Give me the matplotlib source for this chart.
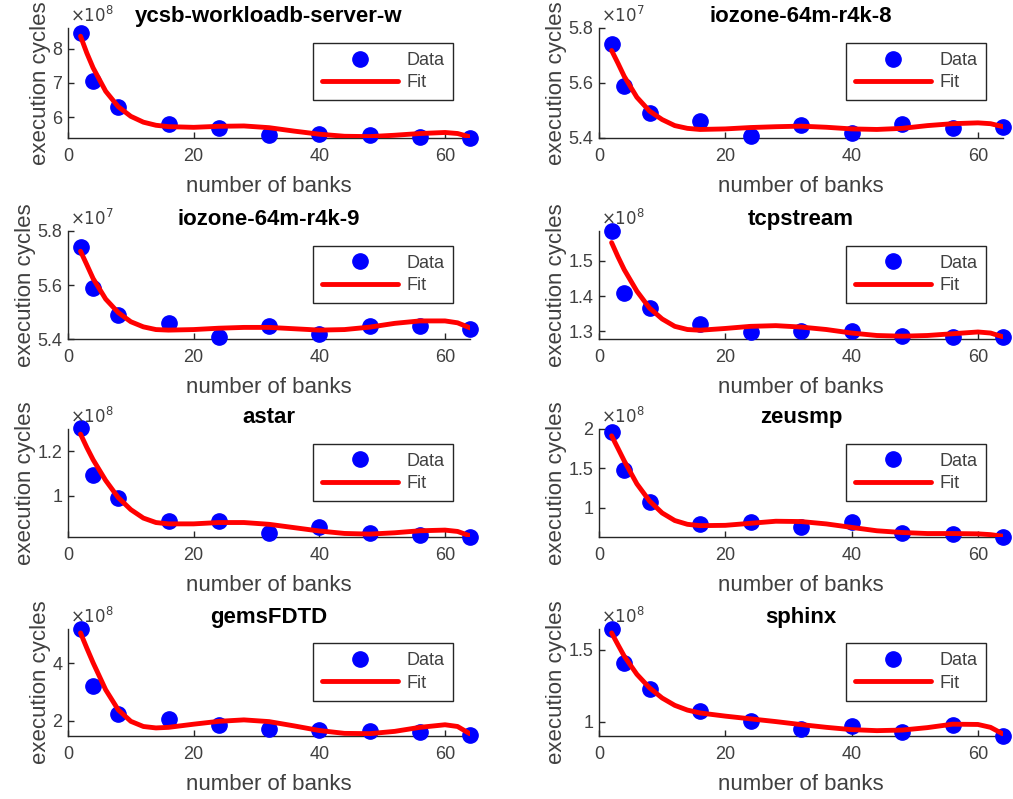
import matplotlib
import matplotlib.pyplot as plt
from matplotlib.ticker import MultipleLocator, FuncFormatter

matplotlib.use("agg")
plt.rcParams["font.family"] = ["Liberation Sans", "DejaVu Sans"]

banks = [2, 4, 8, 16, 24, 32, 40, 48, 56, 64]
fit_x = [2, 3, 4, 6, 8, 10, 12, 14, 16, 20, 24, 28, 32, 36, 40, 44, 48, 52, 56, 60, 62, 64]

titles = ["ycsb-workloadb-server-w", "iozone-64m-r4k-8", "iozone-64m-r4k-9", "tcpstream",
          "astar", "zeusmp", "gemsFDTD", "sphinx"]
exponents = [8, 7, 7, 8, 8, 8, 8, 8]

# measured cycles (in units of 10^exponent)
ycsb_data = [8.46, 7.05, 6.30, 5.81, 5.69, 5.50, 5.51, 5.49, 5.42, 5.40]
ioz8_data = [5.741, 5.589, 5.492, 5.460, 5.408, 5.448, 5.419, 5.450, 5.435, 5.441]
ioz9_data = [5.741, 5.589, 5.489, 5.460, 5.408, 5.448, 5.420, 5.450, 5.448, 5.438]
tcp_data = [1.585, 1.408, 1.367, 1.322, 1.297, 1.300, 1.302, 1.286, 1.284, 1.283]
astar_data = [1.303, 1.092, 0.988, 0.885, 0.885, 0.834, 0.862, 0.835, 0.826, 0.815]
zeus_data = [1.965, 1.478, 1.074, 0.796, 0.817, 0.752, 0.817, 0.687, 0.665, 0.630]
gems_data = [5.20, 3.21, 2.24, 2.06, 1.85, 1.71, 1.68, 1.64, 1.61, 1.51]
sphinx_data = [1.645, 1.411, 1.230, 1.073, 1.007, 0.948, 0.972, 0.925, 0.977, 0.901]

# fitted curves, read at fit_x
ycsb_fit = [8.36, 7.87, 7.44, 6.76, 6.31, 6.03, 5.86, 5.77, 5.73, 5.71, 5.74, 5.75, 5.70,
            5.60, 5.51, 5.45, 5.44, 5.48, 5.53, 5.56, 5.53, 5.43]
ioz8_fit = [5.718, 5.672, 5.624, 5.548, 5.498, 5.467, 5.445, 5.435, 5.431, 5.433, 5.438,
            5.441, 5.443, 5.439, 5.433, 5.431, 5.435, 5.445, 5.452, 5.455, 5.452, 5.441]
ioz9_fit = [5.725, 5.675, 5.624, 5.548, 5.498, 5.464, 5.445, 5.435, 5.433, 5.435, 5.440,
            5.443, 5.443, 5.438, 5.433, 5.435, 5.444, 5.458, 5.467, 5.467, 5.460, 5.441]
tcp_fit = [1.552, 1.512, 1.475, 1.414, 1.366, 1.335, 1.314, 1.305, 1.303, 1.308, 1.314,
           1.316, 1.312, 1.305, 1.295, 1.288, 1.286, 1.288, 1.293, 1.298, 1.295, 1.284]
astar_fit = [1.277, 1.217, 1.162, 1.069, 0.992, 0.938, 0.900, 0.880, 0.874, 0.874, 0.880,
             0.880, 0.872, 0.857, 0.842, 0.831, 0.828, 0.834, 0.843, 0.846, 0.840, 0.820]
zeus_fit = [1.913, 1.755, 1.595, 1.304, 1.087, 0.935, 0.839, 0.791, 0.774, 0.778, 0.804,
            0.830, 0.826, 0.796, 0.752, 0.709, 0.687, 0.674, 0.674, 0.670, 0.660, 0.639]
gems_fit = [5.06, 4.53, 4.02, 3.08, 2.38, 1.98, 1.80, 1.75, 1.77, 1.88, 1.98, 2.03, 1.97,
            1.82, 1.66, 1.56, 1.55, 1.63, 1.77, 1.86, 1.80, 1.54]
sphinx_fit = [1.617, 1.535, 1.455, 1.329, 1.235, 1.164, 1.113, 1.080, 1.060, 1.038, 1.019,
              1.000, 0.979, 0.960, 0.944, 0.937, 0.941, 0.958, 0.982, 0.980, 0.960, 0.913]

all_data = [ycsb_data, ioz8_data, ioz9_data, tcp_data, astar_data, zeus_data, gems_data, sphinx_data]
all_fit = [ycsb_fit, ioz8_fit, ioz9_fit, tcp_fit, astar_fit, zeus_fit, gems_fit, sphinx_fit]
y_limits = [(5.40, 8.60), (5.40, 5.80), (5.40, 5.80), (1.278, 1.585),
            (0.815, 1.30), (0.63, 2.0), (1.47, 5.2), (0.90, 1.645)]
y_steps = [1, 0.2, 0.2, 0.1, 0.2, 0.5, 2, 0.5]

TXT = "#404040"
fig = plt.figure(figsize=(10.13, 7.99), dpi=100)
lefts = [0.0671, 0.5913]
widths = [0.397, 0.399]
bottoms = [0.8273, 0.5757, 0.3279, 0.0789]
heights = [0.1377, 0.1352, 0.1352, 0.1340]

for i, title in enumerate(titles):
    row, col = divmod(i, 2)
    ax = fig.add_axes([lefts[col], bottoms[row], widths[col], heights[row]])
    ax.plot(banks, all_data[i], "o", color="blue", markersize=11, label="Data",
            clip_on=False, zorder=3)
    ax.plot(fit_x, all_fit[i], "-", color="red", linewidth=3.5, label="Fit",
            solid_capstyle="round", zorder=4)
    ax.set_xlim(0, 64)
    ax.set_ylim(*y_limits[i])
    ax.xaxis.set_major_locator(MultipleLocator(20))
    ax.yaxis.set_major_locator(MultipleLocator(y_steps[i]))
    ax.yaxis.set_major_formatter(FuncFormatter(lambda v, p: f"{round(v, 3):g}"))
    for side in ("top", "right"):
        ax.spines[side].set_visible(False)
    for side in ("left", "bottom"):
        ax.spines[side].set_color("#262626")
        ax.spines[side].set_linewidth(1.0)
    ax.tick_params(direction="in", length=4, width=1, colors="#262626",
                   labelcolor=TXT, labelsize=13)
    ax.tick_params(axis="x", pad=7)
    ax.tick_params(axis="y", pad=4)
    ax.set_xlabel("number of banks", fontsize=16, color=TXT, labelpad=8)
    ax.set_ylabel("execution cycles", fontsize=16, color=TXT, labelpad=1)
    ax.set_title(title, fontsize=16, fontweight="bold", color="black", pad=4)
    ax.text(0.005, 1.03, rf"$\times10^{{{exponents[i]}}}$", transform=ax.transAxes,
            fontsize=12, color=TXT, ha="left", va="bottom")
    leg = ax.legend(loc="upper right", bbox_to_anchor=(0.958, 0.865), fontsize=13,
                    numpoints=1, handlelength=4.2, handletextpad=0.45, borderpad=0.5,
                    labelspacing=0.3, fancybox=False, framealpha=1, borderaxespad=0)
    leg.get_frame().set_edgecolor("#262626")
    leg.get_frame().set_linewidth(1.0)
    for t in leg.get_texts():
        t.set_color(TXT)

fig.savefig("out.png", dpi=100)
